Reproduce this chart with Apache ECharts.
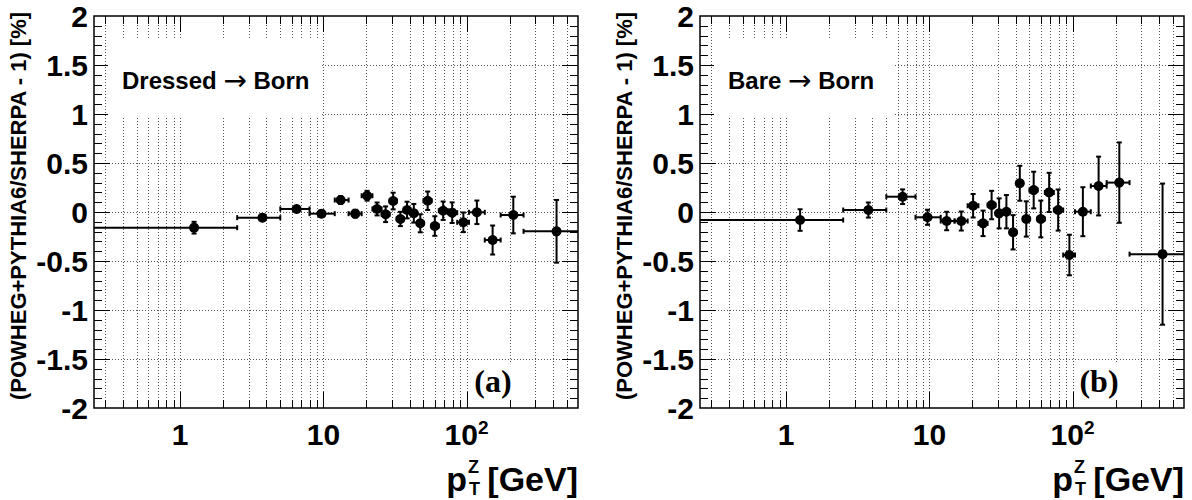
<!DOCTYPE html>
<html><head><meta charset="utf-8">
<script src="https://cdn.jsdelivr.net/npm/echarts@6/dist/echarts.min.js"></script>
<style>html,body{margin:0;padding:0;background:#fff}#c{width:1192px;height:500px}</style>
</head><body><div id="c"></div>
<script>
// ---- data ----
const ptCenter = [1.25, 3.75, 6.5, 9.7, 13.2, 16.7, 20.2, 23.7, 27.2, 30.7, 34.5, 38.4, 42.8, 47.5, 53.5, 60, 68.6, 79.3, 95, 118, 152, 212, 425];
const binLow   = [0, 2.5, 5, 8, 12, 15, 18.5, 22, 25.5, 29, 32.5, 36.5, 40.5, 45, 50, 57, 64, 74, 86, 104, 134, 173, 250];
const binHigh  = [2.5, 5, 8, 12, 15, 18.5, 22, 25.5, 29, 32.5, 36.5, 40.5, 45, 50, 57, 64, 74, 86, 104, 134, 173, 250, 600];
const valA = [-0.160, -0.058, 0.031, -0.017, 0.122, -0.017, 0.166, 0.031, -0.023, 0.112, -0.071, 0.020, -0.013, -0.115, 0.115, -0.143, 0.013, -0.007, -0.105, -0.003, -0.286, -0.031, -0.197];
const errA = [0.06, 0.03, 0.03, 0.03, 0.04, 0.04, 0.05, 0.066, 0.08, 0.085, 0.073, 0.085, 0.095, 0.092, 0.094, 0.10, 0.094, 0.105, 0.10, 0.12, 0.148, 0.187, 0.32];
const valB = [-0.082, 0.020, 0.156, -0.054, -0.092, -0.092, 0.064, -0.116, 0.071, -0.014, 0.003, -0.207, 0.293, -0.071, 0.224, -0.071, 0.200, 0.020, -0.439, 0.003, 0.265, 0.300, -0.430];
const errB = [0.11, 0.077, 0.075, 0.077, 0.094, 0.097, 0.12, 0.13, 0.145, 0.153, 0.17, 0.175, 0.178, 0.18, 0.187, 0.187, 0.20, 0.21, 0.207, 0.25, 0.30, 0.41, 0.72];
const xGridVals = [0.3,0.4,0.5,0.6,0.7,0.8,0.9,1,2,3,4,5,6,7,8,9,10,20,30,40,50,60,70,80,90,100,200,300,400,500];
const xMajorVals = [1, 10, 100];
const yGridVals = [-1.5, -1, -0.5, 0, 0.5, 1, 1.5];
const panelLabels = ['Dressed', 'Bare'];
const panelTags = ['(a)', '(b)'];
const yTitle = '(POWHEG+PYTHIA6/SHERPA - 1) [%]';

const X_MIN = 0.25, X_MAX = 600, Y_MIN = -2, Y_MAX = 2;
const OFF = 606;
const G = {left: 94, top: 16, width: 484, height: 392};
const FONT = '"Liberation Sans", Arial, Helvetica, sans-serif';

const yMinorVals = [];
for (let k = -19; k <= 19; k++) yMinorVals.push(k / 10);

const crisp = v => Math.round(v) + 0.5;

function decoSeries(gi) {
  return {
    type: 'custom', xAxisIndex: gi, yAxisIndex: gi, z: 1, silent: true,
    data: [[1, 0]], encode: {x: 0, y: 1},
    renderItem: (params, api) => {
      const cs = params.coordSys;
      const top = cs.y, bot = cs.y + cs.height, left = cs.x, right = cs.x + cs.width;
      const ch = [];
      xGridVals.forEach(v => {
        const x = crisp(api.coord([v, 0])[0]);
        const major = xMajorVals.indexOf(v) >= 0;
        ch.push({type: 'line', shape: {x1: x, y1: top, x2: x, y2: bot}, style: {stroke: '#555', lineWidth: 1, lineDash: [1, 2]}});
        const L = major ? 16 : 8;
        ch.push({type: 'line', shape: {x1: x, y1: bot, x2: x, y2: bot - L}, style: {stroke: '#000', lineWidth: 1}});
        ch.push({type: 'line', shape: {x1: x, y1: top, x2: x, y2: top + L}, style: {stroke: '#000', lineWidth: 1}});
      });
      yGridVals.forEach(v => {
        const y = crisp(api.coord([1, v])[1]);
        ch.push({type: 'line', shape: {x1: left, y1: y, x2: right, y2: y}, style: {stroke: '#555', lineWidth: 1, lineDash: [1, 2]}});
      });
      yMinorVals.forEach(v => {
        const y = crisp(api.coord([1, v])[1]);
        const major = Math.abs(v * 2 - Math.round(v * 2)) < 1e-6;
        const L = major ? 16 : 8;
        ch.push({type: 'line', shape: {x1: left, y1: y, x2: left + L, y2: y}, style: {stroke: '#000', lineWidth: 1}});
        ch.push({type: 'line', shape: {x1: right, y1: y, x2: right - L, y2: y}, style: {stroke: '#000', lineWidth: 1}});
      });
      return {type: 'group', children: ch};
    }
  };
}

function dataSeries(gi, vals, errs) {
  return {
    type: 'custom', xAxisIndex: gi, yAxisIndex: gi, z: 10, silent: true,
    encode: {x: 0, y: 1},
    data: ptCenter.map((x, i) => [x, vals[i], binLow[i], binHigh[i], errs[i]]),
    renderItem: (params, api) => {
      const xc = api.value(0), y = api.value(1), lo = api.value(2), hi = api.value(3), e = api.value(4);
      const pc = api.coord([xc, y]);
      const pl = api.coord([Math.max(lo, X_MIN), y]);
      const ph = api.coord([Math.min(hi, X_MAX), y]);
      const pt = api.coord([xc, y + e]);
      const pb = api.coord([xc, y - e]);
      const st = {stroke: '#000', lineWidth: 2};
      const c = 2.5;
      const ch = [
        {type: 'line', shape: {x1: pl[0], y1: pc[1], x2: ph[0], y2: pc[1]}, style: st},
        {type: 'line', shape: {x1: pc[0], y1: pt[1], x2: pc[0], y2: pb[1]}, style: st},
        {type: 'line', shape: {x1: pc[0] - c, y1: pt[1], x2: pc[0] + c, y2: pt[1]}, style: st},
        {type: 'line', shape: {x1: pc[0] - c, y1: pb[1], x2: pc[0] + c, y2: pb[1]}, style: st},
        {type: 'circle', shape: {cx: pc[0], cy: pc[1], r: 5}, style: {fill: '#000'}}
      ];
      if (lo > X_MIN) ch.push({type: 'line', shape: {x1: pl[0], y1: pc[1] - c, x2: pl[0], y2: pc[1] + c}, style: st});
      if (hi < X_MAX) ch.push({type: 'line', shape: {x1: ph[0], y1: pc[1] - c, x2: ph[0], y2: pc[1] + c}, style: st});
      return {type: 'group', children: ch};
    }
  };
}

function isPow10(v) { const l = Math.log10(v); return Math.abs(l - Math.round(l)) < 1e-6; }

const grids = [0, 1].map(i => ({left: G.left + i * OFF, top: G.top, width: G.width, height: G.height,
  show: true, borderColor: '#000', borderWidth: 1.5, backgroundColor: 'transparent'}));

const xAxes = [0, 1].map(i => ({
  type: 'log', logBase: 10, gridIndex: i, min: X_MIN, max: X_MAX,
  axisLine: {show: false}, axisTick: {show: false}, splitLine: {show: false}, minorTick: {show: false},
  axisLabel: {
    margin: 10, color: '#000', showMinLabel: false, showMaxLabel: false,
    formatter: v => {
      if (!isPow10(v)) return '';
      const p = Math.round(Math.log10(v));
      if (p === 0) return '{a|1}';
      if (p === 1) return '{a|10}';
      if (p === 2) return '{a|10}{s|2}';
      return '';
    },
    rich: {
      a: {fontFamily: FONT, fontWeight: 'bold', fontSize: 30, color: '#000', lineHeight: 32},
      s: {fontFamily: FONT, fontWeight: 'bold', fontSize: 19, color: '#000', verticalAlign: 'top', lineHeight: 19}
    }
  }
}));

const yAxes = [0, 1].map(i => ({
  type: 'value', gridIndex: i, min: Y_MIN, max: Y_MAX, interval: 0.5,
  axisLine: {show: false}, axisTick: {show: false}, splitLine: {show: false},
  axisLabel: {margin: 6, color: '#000', fontFamily: FONT, fontWeight: 'bold', fontSize: 30,
    formatter: v => String(Math.round(v * 10) / 10)}
}));

const graphics = [];
[0, 1].forEach(i => {
  const o = i * OFF;
  // white label box
  const boxW = i === 0 ? 214 : 180;
  graphics.push({type: 'rect', z: 5, shape: {x: 108 + o, y: 38, width: boxW, height: 78}, style: {fill: '#fff'}});
  graphics.push({type: 'text', z: 6, x: 122 + o, y: 80, style: {
    text: '{b|' + panelLabels[i] + ' }{n|\u2192}{b| Born}', align: 'left', verticalAlign: 'middle',
    rich: {b: {fontFamily: FONT, fontWeight: 'bold', fontSize: 24, fill: '#000', lineHeight: 30},
           n: {fontFamily: '"DejaVu Sans", sans-serif', fontWeight: 'normal', fontSize: 28, fill: '#000', lineHeight: 30}}}});
  // panel tag
  graphics.push({type: 'rect', z: 5, shape: {x: 468 + o, y: 364, width: 50, height: 34}, style: {fill: '#fff'}});
  graphics.push({type: 'text', z: 6, x: 493 + o, y: 381, style: {text: panelTags[i], align: 'center', verticalAlign: 'middle',
    font: 'bold 32px "Liberation Serif", "Times New Roman", serif', fill: '#000'}});
  // y title
  graphics.push({type: 'text', z: 6, x: 18 + o, y: 206, rotation: Math.PI / 2, style: {text: yTitle, align: 'center', verticalAlign: 'middle',
    font: 'bold 22px ' + FONT, fill: '#000'}});
  // x title p_T^Z [GeV]
  const xr = G.left + G.width + o;
  graphics.push({type: 'text', z: 6, x: xr, y: 479, style: {text: '[GeV]', align: 'right', verticalAlign: 'middle', font: 'bold 34px ' + FONT, fill: '#000'}});
  graphics.push({type: 'text', z: 6, x: xr - 111, y: 479, style: {text: 'p', align: 'right', verticalAlign: 'middle', font: 'bold 34px ' + FONT, fill: '#000'}});
  graphics.push({type: 'text', z: 6, x: xr - 110, y: 467, style: {text: 'Z', align: 'left', verticalAlign: 'middle', font: 'bold 18px ' + FONT, fill: '#000'}});
  graphics.push({type: 'text', z: 6, x: xr - 109, y: 489, style: {text: 'T', align: 'left', verticalAlign: 'middle', font: 'bold 18px ' + FONT, fill: '#000'}});
});

const chart = echarts.init(document.getElementById('c'), null, {renderer: 'svg'});
chart.setOption({
  animation: false,
  backgroundColor: '#fff',
  grid: grids,
  xAxis: xAxes,
  yAxis: yAxes,
  graphic: {elements: graphics},
  series: [decoSeries(0), decoSeries(1), dataSeries(0, valA, errA), dataSeries(1, valB, errB)]
});
</script>
</body></html>
